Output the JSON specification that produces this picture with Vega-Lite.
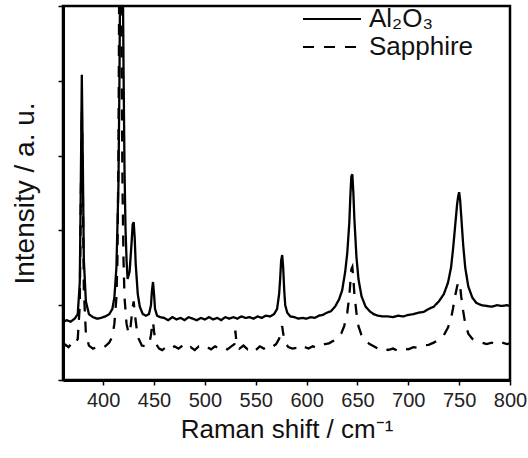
{
  "$schema": "https://vega.github.io/schema/vega-lite/v6.json",
  "width": 447,
  "height": 374,
  "autosize": {"type": "none"},
  "padding": {"left": 63, "top": 6, "right": 18, "bottom": 78},
  "background": "white",
  "config": {
    "view": {"stroke": "black", "strokeWidth": 2.5},
    "font": "Liberation Sans"
  },
  "data": {
    "values": [
      {"series": "Al2O3", "x": 360, "y": 0.77}, {"series": "Al2O3", "x": 364, "y": 0.80}, {"series": "Al2O3", "x": 368, "y": 0.78}, {"series": "Al2O3", "x": 372, "y": 0.82}, {"series": "Al2O3", "x": 375, "y": 0.88}, {"series": "Al2O3", "x": 377, "y": 1.3}, {"series": "Al2O3", "x": 378, "y": 2.6}, {"series": "Al2O3", "x": 379, "y": 4.08}, {"series": "Al2O3", "x": 380, "y": 2.9}, {"series": "Al2O3", "x": 381, "y": 1.6}, {"series": "Al2O3", "x": 383, "y": 1.05}, {"series": "Al2O3", "x": 386, "y": 0.88}, {"series": "Al2O3", "x": 390, "y": 0.84}, {"series": "Al2O3", "x": 394, "y": 0.82}, {"series": "Al2O3", "x": 398, "y": 0.83}, {"series": "Al2O3", "x": 402, "y": 0.85}, {"series": "Al2O3", "x": 406, "y": 0.88}, {"series": "Al2O3", "x": 409, "y": 0.95}, {"series": "Al2O3", "x": 411, "y": 1.1}, {"series": "Al2O3", "x": 413, "y": 1.5}, {"series": "Al2O3", "x": 415, "y": 2.6}, {"series": "Al2O3", "x": 416, "y": 4.0}, {"series": "Al2O3", "x": 417, "y": 6.0}, {"series": "Al2O3", "x": 418, "y": 7.0}, {"series": "Al2O3", "x": 419, "y": 6.0}, {"series": "Al2O3", "x": 420, "y": 4.2}, {"series": "Al2O3", "x": 421, "y": 2.8}, {"series": "Al2O3", "x": 422, "y": 2.0}, {"series": "Al2O3", "x": 423, "y": 1.6}, {"series": "Al2O3", "x": 424, "y": 1.35}, {"series": "Al2O3", "x": 426, "y": 1.45}, {"series": "Al2O3", "x": 428, "y": 1.85}, {"series": "Al2O3", "x": 429, "y": 2.08}, {"series": "Al2O3", "x": 430, "y": 2.11}, {"series": "Al2O3", "x": 431, "y": 1.9}, {"series": "Al2O3", "x": 432, "y": 1.55}, {"series": "Al2O3", "x": 434, "y": 1.15}, {"series": "Al2O3", "x": 436, "y": 0.98}, {"series": "Al2O3", "x": 439, "y": 0.88}, {"series": "Al2O3", "x": 442, "y": 0.86}, {"series": "Al2O3", "x": 445, "y": 0.88}, {"series": "Al2O3", "x": 447, "y": 1.0}, {"series": "Al2O3", "x": 448, "y": 1.2}, {"series": "Al2O3", "x": 449, "y": 1.31}, {"series": "Al2O3", "x": 450, "y": 1.15}, {"series": "Al2O3", "x": 451, "y": 0.95}, {"series": "Al2O3", "x": 453, "y": 0.86}, {"series": "Al2O3", "x": 456, "y": 0.84}, {"series": "Al2O3", "x": 460, "y": 0.83}, {"series": "Al2O3", "x": 464, "y": 0.80}, {"series": "Al2O3", "x": 468, "y": 0.84}, {"series": "Al2O3", "x": 472, "y": 0.81}, {"series": "Al2O3", "x": 476, "y": 0.83}, {"series": "Al2O3", "x": 480, "y": 0.80}, {"series": "Al2O3", "x": 484, "y": 0.84}, {"series": "Al2O3", "x": 488, "y": 0.82}, {"series": "Al2O3", "x": 492, "y": 0.80}, {"series": "Al2O3", "x": 496, "y": 0.83}, {"series": "Al2O3", "x": 500, "y": 0.81}, {"series": "Al2O3", "x": 504, "y": 0.84}, {"series": "Al2O3", "x": 508, "y": 0.81}, {"series": "Al2O3", "x": 512, "y": 0.83}, {"series": "Al2O3", "x": 516, "y": 0.80}, {"series": "Al2O3", "x": 520, "y": 0.84}, {"series": "Al2O3", "x": 524, "y": 0.82}, {"series": "Al2O3", "x": 528, "y": 0.84}, {"series": "Al2O3", "x": 532, "y": 0.82}, {"series": "Al2O3", "x": 536, "y": 0.85}, {"series": "Al2O3", "x": 540, "y": 0.83}, {"series": "Al2O3", "x": 544, "y": 0.84}, {"series": "Al2O3", "x": 548, "y": 0.82}, {"series": "Al2O3", "x": 552, "y": 0.85}, {"series": "Al2O3", "x": 556, "y": 0.83}, {"series": "Al2O3", "x": 560, "y": 0.86}, {"series": "Al2O3", "x": 564, "y": 0.85}, {"series": "Al2O3", "x": 568, "y": 0.88}, {"series": "Al2O3", "x": 571, "y": 0.95}, {"series": "Al2O3", "x": 573, "y": 1.15}, {"series": "Al2O3", "x": 574, "y": 1.35}, {"series": "Al2O3", "x": 575, "y": 1.6}, {"series": "Al2O3", "x": 576, "y": 1.67}, {"series": "Al2O3", "x": 577, "y": 1.5}, {"series": "Al2O3", "x": 578, "y": 1.2}, {"series": "Al2O3", "x": 579, "y": 1.0}, {"series": "Al2O3", "x": 581, "y": 0.9}, {"series": "Al2O3", "x": 584, "y": 0.85}, {"series": "Al2O3", "x": 588, "y": 0.84}, {"series": "Al2O3", "x": 592, "y": 0.82}, {"series": "Al2O3", "x": 596, "y": 0.83}, {"series": "Al2O3", "x": 600, "y": 0.82}, {"series": "Al2O3", "x": 604, "y": 0.84}, {"series": "Al2O3", "x": 608, "y": 0.83}, {"series": "Al2O3", "x": 612, "y": 0.86}, {"series": "Al2O3", "x": 616, "y": 0.87}, {"series": "Al2O3", "x": 620, "y": 0.90}, {"series": "Al2O3", "x": 624, "y": 0.92}, {"series": "Al2O3", "x": 628, "y": 0.98}, {"series": "Al2O3", "x": 632, "y": 1.08}, {"series": "Al2O3", "x": 635, "y": 1.2}, {"series": "Al2O3", "x": 638, "y": 1.45}, {"series": "Al2O3", "x": 640, "y": 1.7}, {"series": "Al2O3", "x": 642, "y": 2.1}, {"series": "Al2O3", "x": 643, "y": 2.45}, {"series": "Al2O3", "x": 644, "y": 2.72}, {"series": "Al2O3", "x": 645, "y": 2.75}, {"series": "Al2O3", "x": 646, "y": 2.5}, {"series": "Al2O3", "x": 647, "y": 2.15}, {"series": "Al2O3", "x": 649, "y": 1.65}, {"series": "Al2O3", "x": 651, "y": 1.35}, {"series": "Al2O3", "x": 654, "y": 1.12}, {"series": "Al2O3", "x": 658, "y": 0.98}, {"series": "Al2O3", "x": 662, "y": 0.92}, {"series": "Al2O3", "x": 666, "y": 0.88}, {"series": "Al2O3", "x": 670, "y": 0.86}, {"series": "Al2O3", "x": 675, "y": 0.85}, {"series": "Al2O3", "x": 680, "y": 0.85}, {"series": "Al2O3", "x": 685, "y": 0.84}, {"series": "Al2O3", "x": 690, "y": 0.86}, {"series": "Al2O3", "x": 695, "y": 0.85}, {"series": "Al2O3", "x": 700, "y": 0.87}, {"series": "Al2O3", "x": 705, "y": 0.88}, {"series": "Al2O3", "x": 710, "y": 0.90}, {"series": "Al2O3", "x": 715, "y": 0.91}, {"series": "Al2O3", "x": 720, "y": 0.95}, {"series": "Al2O3", "x": 725, "y": 0.98}, {"series": "Al2O3", "x": 730, "y": 1.05}, {"series": "Al2O3", "x": 735, "y": 1.15}, {"series": "Al2O3", "x": 739, "y": 1.3}, {"series": "Al2O3", "x": 742, "y": 1.5}, {"series": "Al2O3", "x": 744, "y": 1.75}, {"series": "Al2O3", "x": 746, "y": 2.05}, {"series": "Al2O3", "x": 748, "y": 2.35}, {"series": "Al2O3", "x": 749, "y": 2.45}, {"series": "Al2O3", "x": 750, "y": 2.51}, {"series": "Al2O3", "x": 751, "y": 2.4}, {"series": "Al2O3", "x": 752, "y": 2.2}, {"series": "Al2O3", "x": 754, "y": 1.8}, {"series": "Al2O3", "x": 756, "y": 1.5}, {"series": "Al2O3", "x": 759, "y": 1.25}, {"series": "Al2O3", "x": 763, "y": 1.1}, {"series": "Al2O3", "x": 767, "y": 1.03}, {"series": "Al2O3", "x": 772, "y": 1.0}, {"series": "Al2O3", "x": 777, "y": 0.99}, {"series": "Al2O3", "x": 782, "y": 0.98}, {"series": "Al2O3", "x": 787, "y": 1.0}, {"series": "Al2O3", "x": 792, "y": 0.99}, {"series": "Al2O3", "x": 797, "y": 1.0}, {"series": "Al2O3", "x": 800, "y": 0.99},
      {"series": "Sapphire", "x": 360, "y": 0.43}, {"series": "Sapphire", "x": 363, "y": 0.47}, {"series": "Sapphire", "x": 366, "y": 0.44}, {"series": "Sapphire", "x": 369, "y": 0.49}, {"series": "Sapphire", "x": 372, "y": 0.47}, {"series": "Sapphire", "x": 375, "y": 0.55}, {"series": "Sapphire", "x": 377, "y": 1.0}, {"series": "Sapphire", "x": 378, "y": 2.4}, {"series": "Sapphire", "x": 379, "y": 3.6}, {"series": "Sapphire", "x": 380, "y": 2.5}, {"series": "Sapphire", "x": 381, "y": 1.2}, {"series": "Sapphire", "x": 383, "y": 0.62}, {"series": "Sapphire", "x": 386, "y": 0.46}, {"series": "Sapphire", "x": 390, "y": 0.42}, {"series": "Sapphire", "x": 394, "y": 0.44}, {"series": "Sapphire", "x": 398, "y": 0.42}, {"series": "Sapphire", "x": 402, "y": 0.45}, {"series": "Sapphire", "x": 406, "y": 0.50}, {"series": "Sapphire", "x": 409, "y": 0.58}, {"series": "Sapphire", "x": 411, "y": 0.75}, {"series": "Sapphire", "x": 413, "y": 1.1}, {"series": "Sapphire", "x": 414, "y": 1.6}, {"series": "Sapphire", "x": 415, "y": 3.0}, {"series": "Sapphire", "x": 416, "y": 6.0}, {"series": "Sapphire", "x": 417, "y": 6.5}, {"series": "Sapphire", "x": 418, "y": 4.5}, {"series": "Sapphire", "x": 419, "y": 2.6}, {"series": "Sapphire", "x": 420, "y": 1.6}, {"series": "Sapphire", "x": 421, "y": 1.1}, {"series": "Sapphire", "x": 423, "y": 0.75}, {"series": "Sapphire", "x": 425, "y": 0.62}, {"series": "Sapphire", "x": 427, "y": 0.72}, {"series": "Sapphire", "x": 429, "y": 0.98}, {"series": "Sapphire", "x": 430, "y": 1.05}, {"series": "Sapphire", "x": 431, "y": 0.9}, {"series": "Sapphire", "x": 433, "y": 0.68}, {"series": "Sapphire", "x": 435, "y": 0.55}, {"series": "Sapphire", "x": 438, "y": 0.46}, {"series": "Sapphire", "x": 442, "y": 0.45}, {"series": "Sapphire", "x": 445, "y": 0.47}, {"series": "Sapphire", "x": 447, "y": 0.6}, {"series": "Sapphire", "x": 448, "y": 0.72}, {"series": "Sapphire", "x": 449, "y": 0.78}, {"series": "Sapphire", "x": 450, "y": 0.65}, {"series": "Sapphire", "x": 452, "y": 0.48}, {"series": "Sapphire", "x": 455, "y": 0.42}, {"series": "Sapphire", "x": 458, "y": 0.40}, {"series": "Sapphire", "x": 462, "y": 0.44}, {"series": "Sapphire", "x": 466, "y": 0.41}, {"series": "Sapphire", "x": 470, "y": 0.45}, {"series": "Sapphire", "x": 474, "y": 0.42}, {"series": "Sapphire", "x": 478, "y": 0.46}, {"series": "Sapphire", "x": 482, "y": 0.41}, {"series": "Sapphire", "x": 486, "y": 0.44}, {"series": "Sapphire", "x": 490, "y": 0.40}, {"series": "Sapphire", "x": 494, "y": 0.45}, {"series": "Sapphire", "x": 498, "y": 0.42}, {"series": "Sapphire", "x": 502, "y": 0.44}, {"series": "Sapphire", "x": 506, "y": 0.41}, {"series": "Sapphire", "x": 510, "y": 0.45}, {"series": "Sapphire", "x": 514, "y": 0.42}, {"series": "Sapphire", "x": 518, "y": 0.44}, {"series": "Sapphire", "x": 522, "y": 0.41}, {"series": "Sapphire", "x": 526, "y": 0.45}, {"series": "Sapphire", "x": 529, "y": 0.48}, {"series": "Sapphire", "x": 530, "y": 0.66}, {"series": "Sapphire", "x": 531, "y": 0.50}, {"series": "Sapphire", "x": 534, "y": 0.42}, {"series": "Sapphire", "x": 538, "y": 0.46}, {"series": "Sapphire", "x": 542, "y": 0.41}, {"series": "Sapphire", "x": 546, "y": 0.44}, {"series": "Sapphire", "x": 550, "y": 0.40}, {"series": "Sapphire", "x": 554, "y": 0.45}, {"series": "Sapphire", "x": 558, "y": 0.42}, {"series": "Sapphire", "x": 562, "y": 0.46}, {"series": "Sapphire", "x": 566, "y": 0.44}, {"series": "Sapphire", "x": 570, "y": 0.48}, {"series": "Sapphire", "x": 573, "y": 0.55}, {"series": "Sapphire", "x": 575, "y": 0.68}, {"series": "Sapphire", "x": 576, "y": 0.72}, {"series": "Sapphire", "x": 577, "y": 0.62}, {"series": "Sapphire", "x": 579, "y": 0.50}, {"series": "Sapphire", "x": 582, "y": 0.44}, {"series": "Sapphire", "x": 586, "y": 0.42}, {"series": "Sapphire", "x": 590, "y": 0.43}, {"series": "Sapphire", "x": 594, "y": 0.40}, {"series": "Sapphire", "x": 598, "y": 0.44}, {"series": "Sapphire", "x": 602, "y": 0.42}, {"series": "Sapphire", "x": 606, "y": 0.45}, {"series": "Sapphire", "x": 610, "y": 0.43}, {"series": "Sapphire", "x": 614, "y": 0.46}, {"series": "Sapphire", "x": 618, "y": 0.48}, {"series": "Sapphire", "x": 622, "y": 0.49}, {"series": "Sapphire", "x": 626, "y": 0.52}, {"series": "Sapphire", "x": 630, "y": 0.55}, {"series": "Sapphire", "x": 634, "y": 0.62}, {"series": "Sapphire", "x": 637, "y": 0.72}, {"series": "Sapphire", "x": 640, "y": 0.9}, {"series": "Sapphire", "x": 642, "y": 1.12}, {"series": "Sapphire", "x": 643, "y": 1.3}, {"series": "Sapphire", "x": 644, "y": 1.48}, {"series": "Sapphire", "x": 645, "y": 1.51}, {"series": "Sapphire", "x": 646, "y": 1.35}, {"series": "Sapphire", "x": 647, "y": 1.15}, {"series": "Sapphire", "x": 649, "y": 0.9}, {"series": "Sapphire", "x": 651, "y": 0.72}, {"series": "Sapphire", "x": 654, "y": 0.6}, {"series": "Sapphire", "x": 658, "y": 0.52}, {"series": "Sapphire", "x": 662, "y": 0.48}, {"series": "Sapphire", "x": 666, "y": 0.45}, {"series": "Sapphire", "x": 670, "y": 0.42}, {"series": "Sapphire", "x": 675, "y": 0.44}, {"series": "Sapphire", "x": 680, "y": 0.40}, {"series": "Sapphire", "x": 685, "y": 0.42}, {"series": "Sapphire", "x": 690, "y": 0.39}, {"series": "Sapphire", "x": 695, "y": 0.42}, {"series": "Sapphire", "x": 700, "y": 0.41}, {"series": "Sapphire", "x": 705, "y": 0.44}, {"series": "Sapphire", "x": 710, "y": 0.43}, {"series": "Sapphire", "x": 715, "y": 0.46}, {"series": "Sapphire", "x": 720, "y": 0.47}, {"series": "Sapphire", "x": 725, "y": 0.50}, {"series": "Sapphire", "x": 730, "y": 0.54}, {"series": "Sapphire", "x": 735, "y": 0.60}, {"series": "Sapphire", "x": 739, "y": 0.70}, {"series": "Sapphire", "x": 742, "y": 0.82}, {"series": "Sapphire", "x": 744, "y": 0.96}, {"series": "Sapphire", "x": 746, "y": 1.12}, {"series": "Sapphire", "x": 748, "y": 1.25}, {"series": "Sapphire", "x": 749, "y": 1.3}, {"series": "Sapphire", "x": 750, "y": 1.31}, {"series": "Sapphire", "x": 751, "y": 1.25}, {"series": "Sapphire", "x": 752, "y": 1.12}, {"series": "Sapphire", "x": 754, "y": 0.92}, {"series": "Sapphire", "x": 756, "y": 0.75}, {"series": "Sapphire", "x": 759, "y": 0.62}, {"series": "Sapphire", "x": 763, "y": 0.55}, {"series": "Sapphire", "x": 767, "y": 0.52}, {"series": "Sapphire", "x": 772, "y": 0.50}, {"series": "Sapphire", "x": 777, "y": 0.48}, {"series": "Sapphire", "x": 782, "y": 0.50}, {"series": "Sapphire", "x": 787, "y": 0.47}, {"series": "Sapphire", "x": 792, "y": 0.50}, {"series": "Sapphire", "x": 797, "y": 0.48}, {"series": "Sapphire", "x": 800, "y": 0.49}
    ]
  },
  "mark": {"type": "line", "clip": true, "color": "black", "strokeWidth": 2.3},
  "encoding": {
    "x": {
      "field": "x", "type": "quantitative",
      "scale": {"domain": [360.5, 800], "nice": false, "zero": false},
      "axis": {
        "title": "Raman shift / cm⁻¹",
        "values": [400, 450, 500, 550, 600, 650, 700, 750, 800],
        "grid": false,
        "domainColor": "black", "domainWidth": 3,
        "tickColor": "black", "tickWidth": 1.5, "tickSize": 5,
        "labelFontSize": 20, "labelColor": "#222", "labelPadding": 5, "labelFlush": false,
        "titleFontSize": 26, "titleFontWeight": "normal", "titleColor": "#111", "titlePadding": 6
      }
    },
    "y": {
      "field": "y", "type": "quantitative",
      "scale": {"domain": [0, 5], "nice": false},
      "axis": {
        "title": "Intensity / a. u.",
        "values": [0, 1, 2, 3, 4, 5],
        "labels": false,
        "grid": false,
        "domainColor": "black", "domainWidth": 3,
        "tickColor": "black", "tickWidth": 1.5, "tickSize": 5,
        "titleFontSize": 28, "titleFontWeight": "normal", "titleColor": "#111", "titlePadding": 18
      }
    },
    "strokeDash": {
      "field": "series", "type": "nominal",
      "scale": {"domain": ["Al2O3", "Sapphire"], "range": [[1, 0], [11, 10]]},
      "legend": {
        "title": null,
        "orient": "none",
        "legendX": 256,
        "legendY": 0,
        "symbolType": "M-2.9,0H2.9",
        "symbolSize": 400,
        "symbolStrokeWidth": 2,
        "symbolStrokeColor": "black",
        "labelFontSize": 26,
        "labelColor": "#111",
        "labelOffset": 24,
        "rowPadding": 2,
        "labelExpr": "datum.label == 'Al2O3' ? 'Al₂O₃' : datum.label"
      }
    }
  }
}
